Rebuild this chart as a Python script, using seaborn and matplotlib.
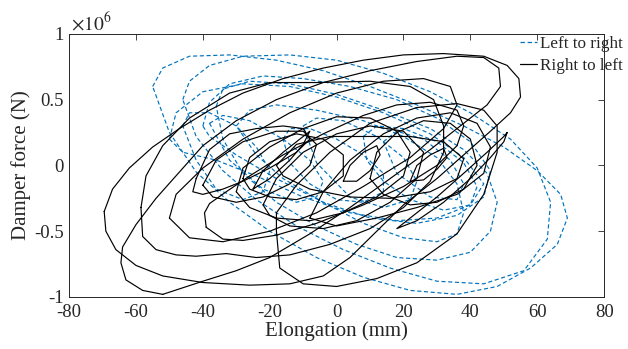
import matplotlib
matplotlib.use("Agg")
import matplotlib.pyplot as plt
import seaborn as sns
import pandas as pd
from matplotlib.lines import Line2D

# ---- data: elongation (mm) and damper force (x1e6 N) ----
# Right to left (solid black) loops
k1_x = [-69.5, -67, -62, -55, -47, -38, -28, -16, -4, 8, 20, 32, 44, 51, 54.5, 55, 52, 46, 38, 30, 20, 12, 4, -4, -14, -26, -40, -52, -60, -66, -69, -69.5]
k1_y = [-0.35, -0.18, -0.02, 0.14, 0.28, 0.42, 0.55, 0.66, 0.74, 0.80, 0.84, 0.85, 0.83, 0.76, 0.66, 0.52, 0.40, 0.26, 0.08, -0.10, -0.30, -0.50, -0.70, -0.84, -0.90, -0.91, -0.89, -0.84, -0.76, -0.64, -0.50, -0.35]
k2_x = [-52, -58, -63, -64.5, -64, -60, -54, -47, -40, -30, -18, -4, 10, 24, 36, 44, 48.5, 49, 45, 38, 28, 16, 4, -8, -20, -30, -40, -52]
k2_y = [-0.98, -0.95, -0.87, -0.74, -0.62, -0.45, -0.25, -0.05, 0.15, 0.34, 0.50, 0.63, 0.72, 0.79, 0.83, 0.82, 0.74, 0.60, 0.46, 0.32, 0.12, -0.10, -0.32, -0.52, -0.70, -0.80, -0.88, -0.98]
k3_x = [-58.5, -58, -54, -48, -42, -33, -24, -14, -2, 10, 20, 28, 32, 32, 29, 22, 10, -6, -20, -32, -44, -52, -57, -58.5]
k3_y = [-0.32, -0.54, -0.64, -0.68, -0.69, -0.67, -0.70, -0.68, -0.60, -0.48, -0.32, -0.12, 0.10, 0.30, 0.50, 0.60, 0.64, 0.63, 0.63, 0.55, 0.36, 0.15, -0.08, -0.32]
k4_x = [-39, -39.5, -38, -33, -26, -16, -4, 8, 18, 28, 36, 38, 36, 30, 20, 8, -6, -18, -28, -34, -39]
k4_y = [-0.47, -0.36, -0.29, -0.20, -0.08, 0.08, 0.24, 0.38, 0.46, 0.48, 0.42, 0.30, 0.15, 0.00, -0.16, -0.30, -0.44, -0.53, -0.57, -0.56, -0.47]
k5_x = [-18, -17, -10, 0, 12, 24, 36, 44, 48, 48, 44, 36, 24, 10, -2, -12, -18, -18]
k5_y = [-0.50, -0.78, -0.90, -0.92, -0.86, -0.74, -0.52, -0.22, 0.10, 0.30, 0.42, 0.47, 0.44, 0.32, 0.10, -0.15, -0.36, -0.50]
k6_x = [51, 50, 46, 40, 32, 24, 18, 22, 30, 38, 45, 50, 51]
k6_y = [0.25, 0.18, 0.06, -0.10, -0.28, -0.42, -0.48, -0.40, -0.24, -0.06, 0.10, 0.22, 0.25]
k7_x = [-42, -43, -40, -34, -28, -20, -12, -8, -10, -16, -24, -32, -38, -42]
k7_y = [-0.10, -0.20, -0.22, -0.18, -0.12, -0.02, 0.10, 0.20, 0.28, 0.30, 0.28, 0.24, 0.12, -0.10]
k8_x = [-30, -28, -20, -10, 0, 10, 18, 22, 20, 12, 2, -8, -18, -26, -30]
k8_y = [-0.20, -0.02, 0.14, 0.28, 0.37, 0.36, 0.26, 0.10, -0.08, -0.24, -0.36, -0.42, -0.40, -0.32, -0.20]
k9_x = [10, 12, 18, 26, 34, 40, 42, 38, 30, 22, 14, 10]
k9_y = [-0.10, 0.10, 0.25, 0.34, 0.32, 0.20, 0.00, -0.18, -0.28, -0.30, -0.22, -0.10]
k10_x = [22, 24, 28, 32, 33, 30, 26, 22]
k10_y = [-0.12, 0.00, 0.08, 0.13, 0.06, -0.03, -0.11, -0.12]
k11_x = [2, 4, 8, 12, 13, 10, 6, 2]
k11_y = [-0.12, 0.00, 0.10, 0.15, 0.08, -0.04, -0.12, -0.12]
k12_x = [-25, -22, -16, -10, -8, -10, -14, -20, -25]
k12_y = [-0.18, -0.04, 0.10, 0.22, 0.26, 0.16, 0.04, -0.10, -0.18]
k13_x = [-40, -36, -28, -18, -10, -6, -8, -14, -22, -30, -37, -40]
k13_y = [-0.15, 0.04, 0.18, 0.26, 0.26, 0.16, 0.00, -0.14, -0.24, -0.28, -0.24, -0.15]
k14_x = [-18, -12, -2, 10, 22, 32, 38, 36, 28, 16, 4, -8, -16, -18]
k14_y = [0.00, 0.16, 0.22, 0.22, 0.22, 0.18, 0.05, -0.10, -0.20, -0.25, -0.24, -0.18, -0.08, 0.00]
k15_x = [-22, -18, -10, 0, 10, 20, 26, 24, 16, 6, -4, -14, -20, -22]
k15_y = [-0.30, -0.10, 0.10, 0.24, 0.30, 0.26, 0.10, -0.10, -0.28, -0.42, -0.48, -0.46, -0.38, -0.30]
k16_x = [-50, -48, -40, -28, -14, 0, 14, 26, 34, 36, 32, 22, 8, -6, -20, -34, -44, -50]
k16_y = [-0.40, -0.22, -0.02, 0.20, 0.40, 0.55, 0.64, 0.66, 0.60, 0.46, 0.28, 0.06, -0.16, -0.36, -0.50, -0.58, -0.55, -0.40]
k17_x = [-8, -4, 4, 14, 24, 34, 42, 46, 44, 36, 24, 12, 0, -8]
k17_y = [-0.40, -0.20, 0.04, 0.24, 0.36, 0.40, 0.32, 0.14, -0.06, -0.22, -0.32, -0.40, -0.46, -0.40]
k18_x = [-28, -26, -20, -12, -4, 2, 2, -4, -12, -20, -26, -28]
k18_y = [-0.10, 0.06, 0.18, 0.24, 0.20, 0.08, -0.08, -0.20, -0.26, -0.24, -0.18, -0.10]

# Left to right (dashed blue) loops
l1_x = [-55, -52, -44, -32, -18, -4, 10, 24, 38, 50, 60, 67, 69, 66, 58, 48, 36, 22, 8, -6, -20, -32, -42, -50, -55]
l1_y = [0.60, 0.74, 0.83, 0.84, 0.80, 0.72, 0.60, 0.46, 0.30, 0.14, -0.04, -0.22, -0.40, -0.60, -0.78, -0.92, -0.98, -0.95, -0.85, -0.70, -0.50, -0.28, -0.05, 0.25, 0.60]
l2_x = [-46, -44, -38, -28, -14, 0, 14, 28, 40, 52, 60, 64, 63, 56, 44, 30, 16, 2, -12, -24, -34, -42, -46]
l2_y = [0.50, 0.64, 0.76, 0.83, 0.84, 0.80, 0.70, 0.56, 0.40, 0.20, -0.02, -0.28, -0.56, -0.80, -0.90, -0.88, -0.78, -0.64, -0.46, -0.26, -0.04, 0.22, 0.50]
l3_x = [-36, -34, -26, -14, 0, 14, 28, 38, 45, 48, 46, 40, 30, 18, 6, -6, -18, -28, -34, -36]
l3_y = [0.45, 0.58, 0.64, 0.62, 0.54, 0.42, 0.28, 0.12, -0.06, -0.28, -0.50, -0.66, -0.72, -0.70, -0.60, -0.46, -0.28, -0.06, 0.20, 0.45]
l4_x = [-30, -26, -18, -6, 8, 20, 30, 36, 38, 36, 30, 20, 8, -4, -16, -24, -30]
l4_y = [0.30, 0.42, 0.46, 0.42, 0.34, 0.22, 0.06, -0.14, -0.36, -0.52, -0.58, -0.55, -0.44, -0.28, -0.10, 0.08, 0.30]
l5_x = [-46, -44, -38, -30, -24, -20, -22, -28, -36, -42, -46]
l5_y = [0.30, 0.40, 0.40, 0.30, 0.14, -0.04, -0.20, -0.26, -0.18, 0.04, 0.30]
l6_x = [-16, -14, -8, 0, 8, 14, 14, 8, 0, -8, -14, -16]
l6_y = [0.20, 0.28, 0.28, 0.20, 0.08, -0.06, -0.20, -0.28, -0.26, -0.14, 0.02, 0.20]
l7_x = [8, 12, 20, 30, 38, 42, 40, 32, 22, 14, 9, 8]
l7_y = [0.22, 0.30, 0.28, 0.18, 0.02, -0.16, -0.30, -0.34, -0.26, -0.12, 0.04, 0.22]
l8_x = [-40, -38, -32, -22, -10, 4, 18, 30, 40, 46, 44, 36, 24, 10, -4, -18, -30, -38, -40]
l8_y = [0.30, 0.48, 0.62, 0.68, 0.66, 0.60, 0.50, 0.36, 0.18, -0.04, -0.24, -0.38, -0.44, -0.40, -0.28, -0.10, 0.08, 0.22, 0.30]
l9_x = [-38, -34, -26, -16, -8, -4, -6, -12, -22, -32, -38]
l9_y = [0.32, 0.38, 0.34, 0.20, 0.04, -0.12, -0.24, -0.28, -0.18, 0.04, 0.32]
l10_x = [-10, -6, 2, 12, 20, 24, 22, 14, 4, -6, -10]
l10_y = [0.30, 0.36, 0.34, 0.22, 0.06, -0.12, -0.26, -0.32, -0.24, 0.02, 0.30]
l11_x = [14, 18, 26, 34, 38, 36, 28, 18, 14]
l11_y = [0.18, 0.26, 0.20, 0.04, -0.14, -0.26, -0.24, -0.06, 0.18]
l12_x = [-50, -48, -40, -28, -14, 0, 14, 28, 38, 44, 40, 30, 18, 4, -10, -24, -36, -46, -50]
l12_y = [0.20, 0.40, 0.56, 0.62, 0.60, 0.52, 0.40, 0.24, 0.06, -0.14, -0.30, -0.40, -0.42, -0.36, -0.24, -0.08, 0.04, 0.10, 0.20]

series_labels = ["Left to right", "Right to left"]
x_ticks = [-80, -60, -40, -20, 0, 20, 40, 60, 80]
y_ticks = [-1, -0.5, 0, 0.5, 1]
y_tick_labels = ["-1", "-0.5", "0", "0.5", "1"]

blue_loops = [(l1_x, l1_y), (l2_x, l2_y), (l3_x, l3_y), (l4_x, l4_y), (l5_x, l5_y),
              (l6_x, l6_y), (l7_x, l7_y), (l8_x, l8_y), (l9_x, l9_y), (l10_x, l10_y),
              (l11_x, l11_y), (l12_x, l12_y)]
black_loops = [(k1_x, k1_y), (k2_x, k2_y), (k3_x, k3_y), (k4_x, k4_y), (k5_x, k5_y),
               (k6_x, k6_y), (k7_x, k7_y), (k8_x, k8_y), (k9_x, k9_y), (k10_x, k10_y),
               (k11_x, k11_y), (k12_x, k12_y), (k13_x, k13_y), (k14_x, k14_y), (k15_x, k15_y),
               (k16_x, k16_y), (k17_x, k17_y), (k18_x, k18_y)]

rows = []
for i, (xs, ys) in enumerate(blue_loops):
    for a, b in zip(xs, ys):
        rows.append({"x": a, "y": b, "dir": series_labels[0], "loop": f"b{i}"})
for i, (xs, ys) in enumerate(black_loops):
    for a, b in zip(xs, ys):
        rows.append({"x": a, "y": b, "dir": series_labels[1], "loop": f"k{i}"})
df = pd.DataFrame(rows)

sns.set_theme(style="white")
plt.rcParams["font.family"] = ["Liberation Serif", "DejaVu Serif"]
plt.rcParams["mathtext.fontset"] = "stix"
plt.rcParams["axes.unicode_minus"] = False

fig = plt.figure(figsize=(6.28, 3.49), dpi=100)
ax = fig.add_axes([0.110, 0.149, 0.852, 0.754])

blue = "#0072BD"
sns.lineplot(data=df, x="x", y="y", hue="dir", style="dir", units="loop",
             estimator=None, sort=False, ax=ax,
             palette={series_labels[0]: blue, series_labels[1]: "black"},
             dashes={series_labels[0]: (3.5, 2.2), series_labels[1]: ""},
             linewidth=0.85, legend=False)

ax.set_xlim(-80, 80)
ax.set_ylim(-1, 1)
ax.set_xticks(x_ticks)
ax.set_yticks(y_ticks)
ax.set_yticklabels(y_tick_labels)
ax.tick_params(direction="in", top=True, right=True, length=4, width=0.6,
               labelsize=13.5, colors="#262626")
ax.tick_params(axis="x", pad=5)
ax.tick_params(axis="y", pad=4)
for s in ax.spines.values():
    s.set_linewidth(0.7)
    s.set_color("#262626")
ax.set_xlabel("Elongation (mm)", fontsize=15, color="#262626", labelpad=0)
ax.set_ylabel("Damper force (N)", fontsize=15, color="#262626", labelpad=2)
ax.text(0.003, 1.0, r"$\times10^{6}$", transform=ax.transAxes, fontsize=14,
        ha="left", va="bottom", color="#262626")

handles = [Line2D([], [], color=blue, lw=0.9, ls=(0, (3.5, 2.2))),
           Line2D([], [], color="black", lw=0.9)]
fig.legend(handles, series_labels, loc="upper left",
           bbox_to_anchor=(520 / 628, 1 - 36 / 349), frameon=False,
           fontsize=12.3, handlelength=1.0, handletextpad=0.15,
           labelspacing=0.35, borderaxespad=0, borderpad=0)

fig.savefig("out.png", dpi=100)
